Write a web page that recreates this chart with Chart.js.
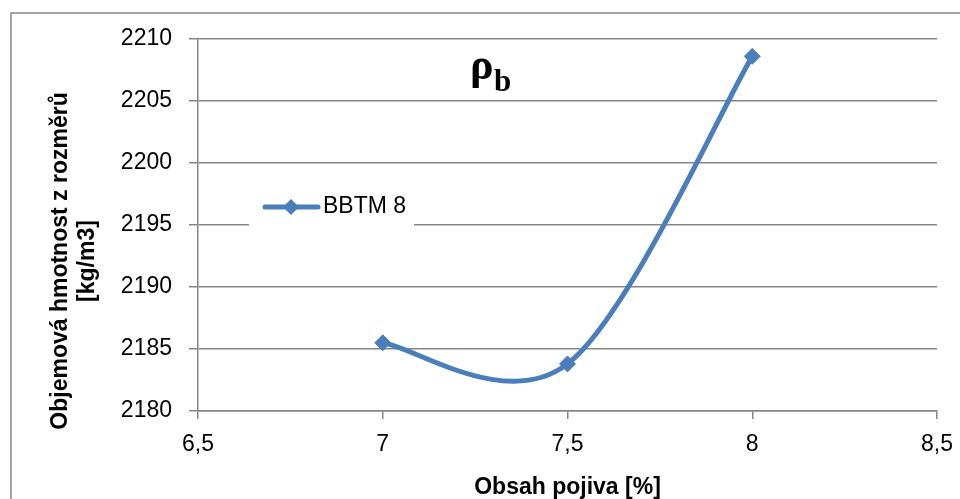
<!DOCTYPE html>
<html lang="cs">
<head>
<meta charset="UTF-8">
<title>BBTM 8</title>
<script src="https://cdn.jsdelivr.net/npm/chart.js"></script>
<style>
    html, body { margin: 0; padding: 0; background: #fff; overflow: hidden; }
    #wrap { width: 960px; height: 499px; }
</style>
</head>
<body>
<div id="wrap"><canvas id="chart"></canvas></div>
<script>
    // data
    const binderContent = [7, 7.5, 8];
    const bulkDensity = [2185.5, 2183.8, 2208.6];
    const seriesName = 'BBTM 8';
    const xTitle = 'Obsah pojiva [%]';
    const yTitle = ['Objemová hmotnost z rozměrů', '[kg/m3]'];

    const blue = '#4A7EBB';
    const grey = '#868686';
    const font = 'Liberation Sans';

    // Excel style smoothing: plain Catmull-Rom control points (1/6 of neighbour span)
    const excelSmooth = {
        id: 'excelSmooth',
        beforeDatasetDraw(chart, args) {
            const pts = args.meta.data;
            for (let i = 0; i < pts.length; i++) {
                const prev = pts[i - 1] || pts[i];
                const next = pts[i + 1] || pts[i];
                const dx = (next.x - prev.x) / 6;
                const dy = (next.y - prev.y) / 6;
                pts[i].cp1x = pts[i].x - dx;
                pts[i].cp1y = pts[i].y - dy;
                pts[i].cp2x = pts[i].x + dx;
                pts[i].cp2y = pts[i].y + dy;
            }
            args.meta.dataset._pointsUpdated = true;
            args.meta.dataset._path = undefined;
        }
    };

    // frame, rho title, legend and y title
    const extras = {
        id: 'extras',
        beforeDraw(chart) {
            const ctx = chart.ctx;
            ctx.save();
            ctx.strokeStyle = grey;
            ctx.lineWidth = 1.5;
            ctx.beginPath();
            ctx.moveTo(11, 520);
            ctx.lineTo(11, 13);
            ctx.lineTo(980, 13);
            ctx.stroke();
            ctx.restore();
        },
        afterDraw(chart) {
            const ctx = chart.ctx;
            ctx.save();

            // title rho_b
            ctx.fillStyle = '#000';
            ctx.textBaseline = 'alphabetic';
            ctx.font = 'bold 44px "Liberation Serif"';
            ctx.fillText('ρ', 470, 79);
            ctx.font = 'bold 31px "Liberation Serif"';
            ctx.fillText('b', 494, 91);

            // legend
            ctx.fillStyle = '#fff';
            ctx.fillRect(249, 186, 165, 46);
            const ds = chart.data.datasets[0];
            ctx.strokeStyle = ds.borderColor;
            ctx.lineWidth = ds.borderWidth;
            ctx.lineCap = 'round';
            ctx.beginPath();
            ctx.moveTo(265, 207);
            ctx.lineTo(318, 207);
            ctx.stroke();
            ctx.fillStyle = ds.pointBackgroundColor;
            ctx.beginPath();
            ctx.moveTo(291, 199);
            ctx.lineTo(299, 207);
            ctx.lineTo(291, 215);
            ctx.lineTo(283, 207);
            ctx.closePath();
            ctx.fill();
            ctx.fillStyle = '#000';
            ctx.font = '23px "' + font + '"';
            ctx.textBaseline = 'middle';
            ctx.textAlign = 'left';
            ctx.fillText(ds.label, 323, 207);

            // y axis title
            ctx.translate(61, 261);
            ctx.rotate(-Math.PI / 2);
            ctx.font = 'bold 23px "' + font + '"';
            ctx.textAlign = 'center';
            ctx.fillText(yTitle[0], 0, 0);
            ctx.fillText(yTitle[1], 0, 27);
            ctx.restore();
        }
    };

    new Chart(document.getElementById('chart'), {
        type: 'line',
        data: {
            datasets: [{
                label: seriesName,
                data: binderContent.map((x, i) => ({ x: x, y: bulkDensity[i] })),
                borderColor: blue,
                backgroundColor: blue,
                pointBackgroundColor: blue,
                pointBorderColor: blue,
                borderWidth: 5,
                pointStyle: 'rectRot',
                pointRadius: 8,
                pointBorderWidth: 1,
                tension: 0.4
            }]
        },
        options: {
            responsive: true,
            maintainAspectRatio: false,
            animation: false,
            layout: { padding: { left: 0, right: 23, top: 39, bottom: 0 } },
            plugins: {
                legend: { display: false },
                tooltip: { enabled: false }
            },
            scales: {
                x: {
                    type: 'linear',
                    min: 6.5,
                    max: 8.5,
                    afterFit: s => { s.height = 88; s.paddingLeft = 0; s.paddingRight = 0; },
                    ticks: {
                        stepSize: 0.5,
                        color: '#000',
                        padding: 12,
                        font: { family: font, size: 23 },
                        callback: v => String(v).replace('.', ',')
                    },
                    grid: { drawOnChartArea: false, tickLength: 8, color: grey, lineWidth: 1.5 },
                    border: { color: grey, width: 1.5 },
                    title: {
                        display: true,
                        text: xTitle,
                        color: '#000',
                        padding: 0,
                        font: { family: font, size: 23, weight: 'bold', lineHeight: 1 }
                    }
                },
                y: {
                    min: 2180,
                    max: 2210,
                    afterFit: s => { s.width = 198; },
                    ticks: {
                        stepSize: 5,
                        color: '#000',
                        padding: 17,
                        font: { family: font, size: 23 },
                        callback: v => String(v)
                    },
                    grid: { tickLength: 9, color: grey, lineWidth: 1.5 },
                    border: { color: grey, width: 1.5 }
                }
            }
        },
        plugins: [excelSmooth, extras]
    });
</script>
</body>
</html>
